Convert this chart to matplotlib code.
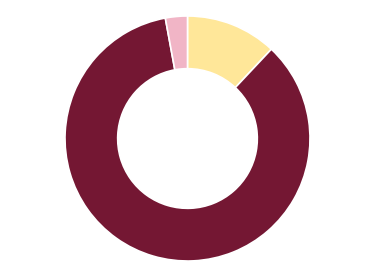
import numpy as np
import matplotlib.pyplot as plt

labels = ['Yellow', 'Maroon', 'Pink']
values = [12.0, 85.1, 2.9]
colors = ['#FFE799', '#741733', '#F1B5C6']

fig = plt.figure(figsize=(3.75, 2.76), dpi=100)
ax = fig.add_axes([0, 0, 1, 1])
ax.pie(values, colors=colors, startangle=90, counterclock=False,
       radius=1.0, wedgeprops=dict(width=0.43, edgecolor='white', linewidth=1.2))
r = 122.5
ax.set_xlim(-187.5 / r, 187.5 / r)
ax.set_ylim(-137.5 / r, 138.5 / r)
ax.set_aspect('equal')
ax.axis('off')
fig.savefig('out.png', dpi=100)
